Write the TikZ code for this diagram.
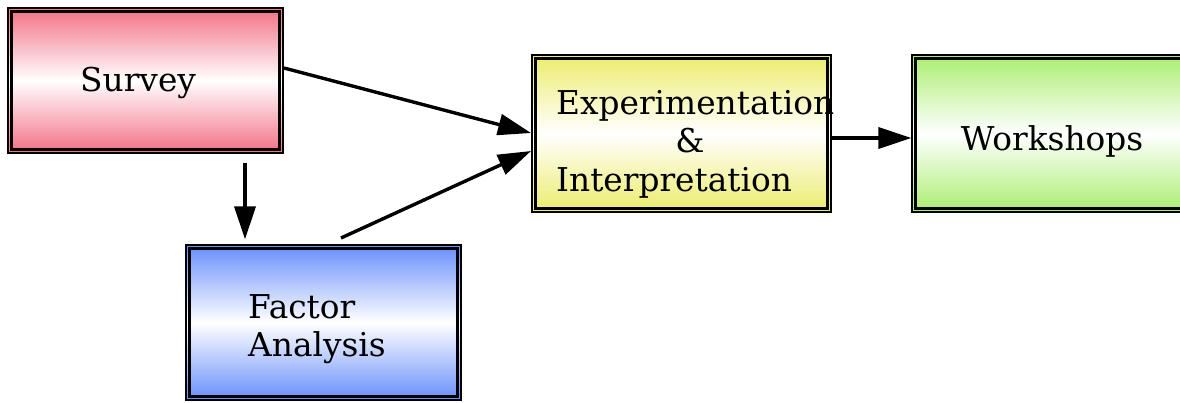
\documentclass[tikz,border=0pt]{standalone}
\usepackage{fontspec}
\setmainfont{DejaVu Serif}
\usetikzlibrary{arrows.meta}
\definecolor{cred}{RGB}{242,112,132}
\definecolor{cblue}{RGB}{104,142,250}
\definecolor{cyel}{RGB}{236,236,108}
\definecolor{cgreen}{RGB}{170,238,112}
\tikzset{
  box/.style={draw=black, line width=1.2pt, rectangle, inner sep=0pt,
    top color=#1, bottom color=#1, middle color=white},
  lbl/.style={font=\fontsize{32.8}{37}\selectfont, inner sep=0pt},
  inner/.style={line width=2.5pt},
  conn/.style={line width=3.4pt, -{Triangle[length=33pt,width=21pt]}}
}
\begin{document}
\begin{tikzpicture}[x=1pt,y=1pt]
\useasboundingbox (0,0) rectangle (1180,-402);
\node[box=cred, minimum width=275pt, minimum height=145pt] (s) at (145.5,-80.5) {};
\node[lbl, anchor=base west] (st) at (80,-91) {Survey};
\node[box=cblue, minimum width=275pt, minimum height=155pt] (f) at (323.5,-322.5) {};
\node[lbl, anchor=base west] (ft) at (248,-318) {Factor};
\node[lbl, anchor=base west] (ft2) at (248,-356) {Analysis};
\node[box=cyel, minimum width=299pt, minimum height=157pt] (e) at (681.5,-133.5) {};
\node[lbl, anchor=base west] (et1) at (556,-114) {Experimentation};
\node[lbl, anchor=base] (et2) at (690,-152) {\&};
\node[lbl, anchor=base west] (et3) at (556,-191) {Interpretation};
\node[box=cgreen, minimum width=280pt, minimum height=157pt] (w) at (1052,-133.5) {};
\node[lbl, anchor=base] (wt) at (1052,-150) {Workshops};
\foreach \n in {s,f,e,w}{
  \draw[inner] ([shift={(4pt,-4pt)}]\n.north west) rectangle ([shift={(-4pt,4pt)}]\n.south east);
}
\coordinate (s1) at (284,-68);
\coordinate (e1) at (531,-133);
\coordinate (f1) at (341,-238);
\coordinate (e2) at (531,-151);
\draw[conn] (s1) -- (e1);
\draw[conn] (f1) -- (e2);
\draw[conn] ([yshift=-9pt]s.south -| 245,0) -- ([yshift=5pt]f.north -| 245,0);
\draw[conn] (e.east |- 0,-138) -- (w.west |- 0,-138);
\end{tikzpicture}
\end{document}
